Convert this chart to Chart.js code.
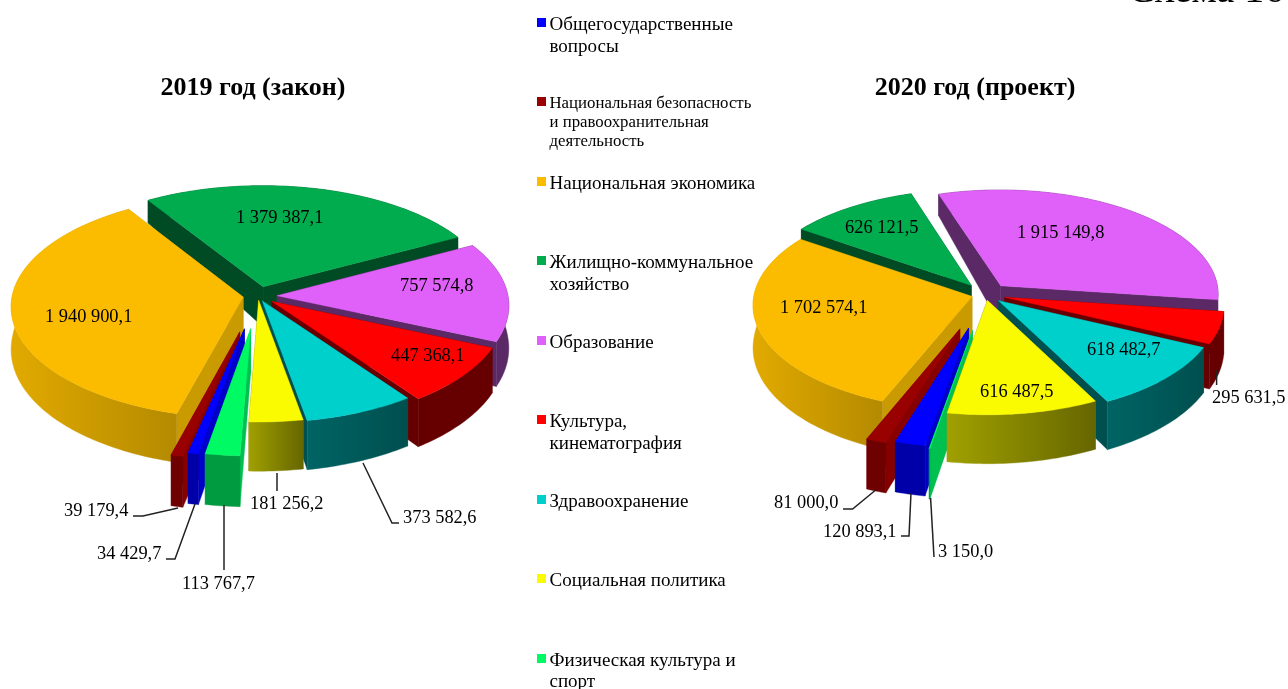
<!DOCTYPE html>
<html><head><meta charset="utf-8">
<style>html,body{margin:0;padding:0;background:#fff;overflow:hidden}canvas{display:block}</style>
<script src="https://cdn.jsdelivr.net/npm/chart.js@4"></script>
</head><body><canvas id="c" width="1288" height="689"></canvas>
<script>
const categories = ["Общегосударственные вопросы","Национальная безопасность и правоохранительная деятельность","Национальная экономика","Жилищно-коммунальное хозяйство","Образование","Культура, кинематография","Здравоохранение","Социальная политика","Физическая культура и спорт"];
const values2019 = [34429.7,39179.4,1940900.1,1379387.1,757574.8,447368.1,373582.6,181256.2,113767.7];
const values2020 = [120893.1,81000.0,1702574.1,626121.5,1915149.8,295631.5,618482.7,616487.5,3150.0];
const title2019 = "2019 год (закон)";
const title2020 = "2020 год (проект)";
const sheetCaption = "Схема 16";

// styling
const topColors  = ["#0000FF","#990000","#FBBC00","#00AC4E","#E060FA","#FF0000","#00D0CC","#FAFA00","#00FA64"];
const wallLeft   = ["#0000A8","#6E0000","#E2AA00","#004A24","#5B2A66","#660000","#006464","#A0A000","#009A40"];
const wallRight  = ["#0000A8","#6E0000","#B48A00","#004A24","#5B2A66","#660000","#004F4F","#666600","#009A40"];
const cutColors  = ["#0000C8","#860000","#C99B00","#004A24","#5B2A66","#660000","#005050","#7A7A00","#00C050"];
const explode2019 = [68,75,15,20,19,18,11,9,67];
const explode2020 = [70,74,14,24,24,20,18,12,74];
const pies = [
  {cx:258,cy:296,R:231,k:.48,D:2800,h0:42,hBack:.09,hFront:.03},
  {cx:985.5,cy:294.6,R:218,k:.48,D:2800,h0:42,hBack:.09,hFront:.03}
];
const titleSpots = [[253,88],[975,88]];
// label layout: left x, middle y, and optional leader polyline
const labelLayout = [
 [ [97,554,[[166,559],[175,559],[195,504]]], [64,511,[[133,516],[143,516],[178,508]]], [45,317], [236,218], [400,286], [391,356], [403,518,[[363,463],[392,523],[399,523]]], [250,504,[[277,473],[277,491]]], [182,584,[[224,505],[224,570]]] ],
 [ [823,532,[[901,536],[909,536],[911,493]]], [774,503,[[843,509],[852.6,509],[875.7,490]]], [780,308], [845,228], [1017,233], [1212,398,[[1216.6,370],[1216.6,385]]], [1087,350], [980,392], [938,552,[[930.6,498],[934,557]]] ]
];
const legendLines = [["Общегосударственные","вопросы"],["Национальная безопасность","и правоохранительная","деятельность"],["Национальная экономика"],["Жилищно-коммунальное","хозяйство"],["Образование"],["Культура,","кинематография"],["Здравоохранение"],["Социальная политика"],["Физическая культура и","спорт"]];
const legendRows = [[25,47],[104,123,142],[184],[263,285],[343],[422,444],[502],[581],[661,682]];
const FONT = '"Liberation Serif"';

const fmt = v => { const [a,b]=v.toFixed(1).split('.'); return a.replace(/\B(?=(\d{3})+$)/g,' ')+','+b; };

const scene = {
  id:'scene',
  beforeDatasetsDraw(chart){
    const ctx = chart.ctx;
    chart.data.datasets.forEach((ds,di)=>{
      const g = pies[di], arcs = chart.getDatasetMeta(di).data;
      const P=(u,v,f)=>{const s=1/(1-v/g.D);return [g.cx+u*s,g.cy+g.k*v*s+f*(g.h0+(v<0?g.hBack:g.hFront)*v)];};
      const parts = arcs.map((el,i)=>{
        const a0=el.startAngle,a1=el.endAngle,m=(a0+a1)/2,off=el.options.offset;
        const ox=off*Math.cos(m),oy=off*Math.sin(m);
        const pts=[];const n=Math.max(2,Math.ceil((a1-a0)/0.02));
        for(let j=0;j<=n;j++){const a=a0+(a1-a0)*j/n;pts.push([ox+g.R*Math.cos(a),oy+g.R*Math.sin(a)]);}
        return {i,ox,oy,pts,depth:Math.sin(m)};
      }).sort((p,q)=>p.depth-q.depth);
      const poly=(list,fill)=>{ctx.beginPath();list.forEach((p,j)=>j?ctx.lineTo(p[0],p[1]):ctx.moveTo(p[0],p[1]));ctx.closePath();ctx.fillStyle=fill;ctx.fill();ctx.strokeStyle=fill;ctx.lineWidth=.4;ctx.stroke();};
      parts.forEach(({i,ox,oy,pts})=>{
        const first=pts[0],last=pts[pts.length-1],cut=cutColors[i];
        poly([P(ox,oy,0),P(first[0],first[1],0),P(first[0],first[1],1),P(ox,oy,1)],cut);
        poly([P(ox,oy,0),P(last[0],last[1],0),P(last[0],last[1],1),P(ox,oy,1)],cut);
        const tops=pts.map(p=>P(p[0],p[1],0)),bots=pts.map(p=>P(p[0],p[1],1)).reverse();
        const xs=tops.map(p=>p[0]);
        const gr=ctx.createLinearGradient(Math.min(...xs),0,Math.max(...xs),0);
        gr.addColorStop(0,wallLeft[i]);gr.addColorStop(1,wallRight[i]);
        poly(tops.concat(bots),gr);
        poly([P(ox,oy,0)].concat(tops),ds.backgroundColor[i]);
      });
    });
    return false;
  },
  afterDraw(chart){
    const ctx=chart.ctx;
    ctx.save();
    ctx.textBaseline='alphabetic';ctx.textAlign='left';ctx.fillStyle='#000';
    ctx.font='40px '+FONT;ctx.fillText(sheetCaption,1128,2);
    ctx.textBaseline='middle';
    chart.data.datasets.forEach((ds,di)=>{
      ctx.textAlign='center';ctx.font='bold 26px '+FONT;ctx.fillStyle='#000';
      ctx.fillText(ds.label,titleSpots[di][0],titleSpots[di][1]);
      ctx.textAlign='left';ctx.font='18.4px '+FONT;
      ds.data.forEach((v,i)=>{
        const [x,y,line]=labelLayout[di][i];
        ctx.fillText(fmt(v),x,y);
        if(line){ctx.beginPath();line.forEach((p,j)=>j?ctx.lineTo(p[0],p[1]):ctx.moveTo(p[0],p[1]));ctx.strokeStyle='#222';ctx.lineWidth=1.5;ctx.stroke();}
      });
    });
    legendLines.forEach((lines,i)=>{
      ctx.fillStyle=topColors[i];
      ctx.fillRect(537,legendRows[i][0]-7,9,9);
      ctx.fillStyle='#000';
      ctx.font=(i===1?'16.8px ':'19px ')+FONT;
      lines.forEach((t,j)=>ctx.fillText(t,549.5,legendRows[i][j]));
    });
    ctx.restore();
  }
};
new Chart(document.getElementById('c'),{
  type:'doughnut',
  data:{labels:categories,datasets:[
    {label:title2019,data:values2019,backgroundColor:topColors,offset:explode2019,borderWidth:0},
    {label:title2020,data:values2020,backgroundColor:topColors,offset:explode2020,borderWidth:0}
  ]},
  options:{responsive:false,animation:false,rotation:190,cutout:0,
    plugins:{legend:{display:false},tooltip:{enabled:false},title:{display:false}}},
  plugins:[scene]
});
</script></body></html>
